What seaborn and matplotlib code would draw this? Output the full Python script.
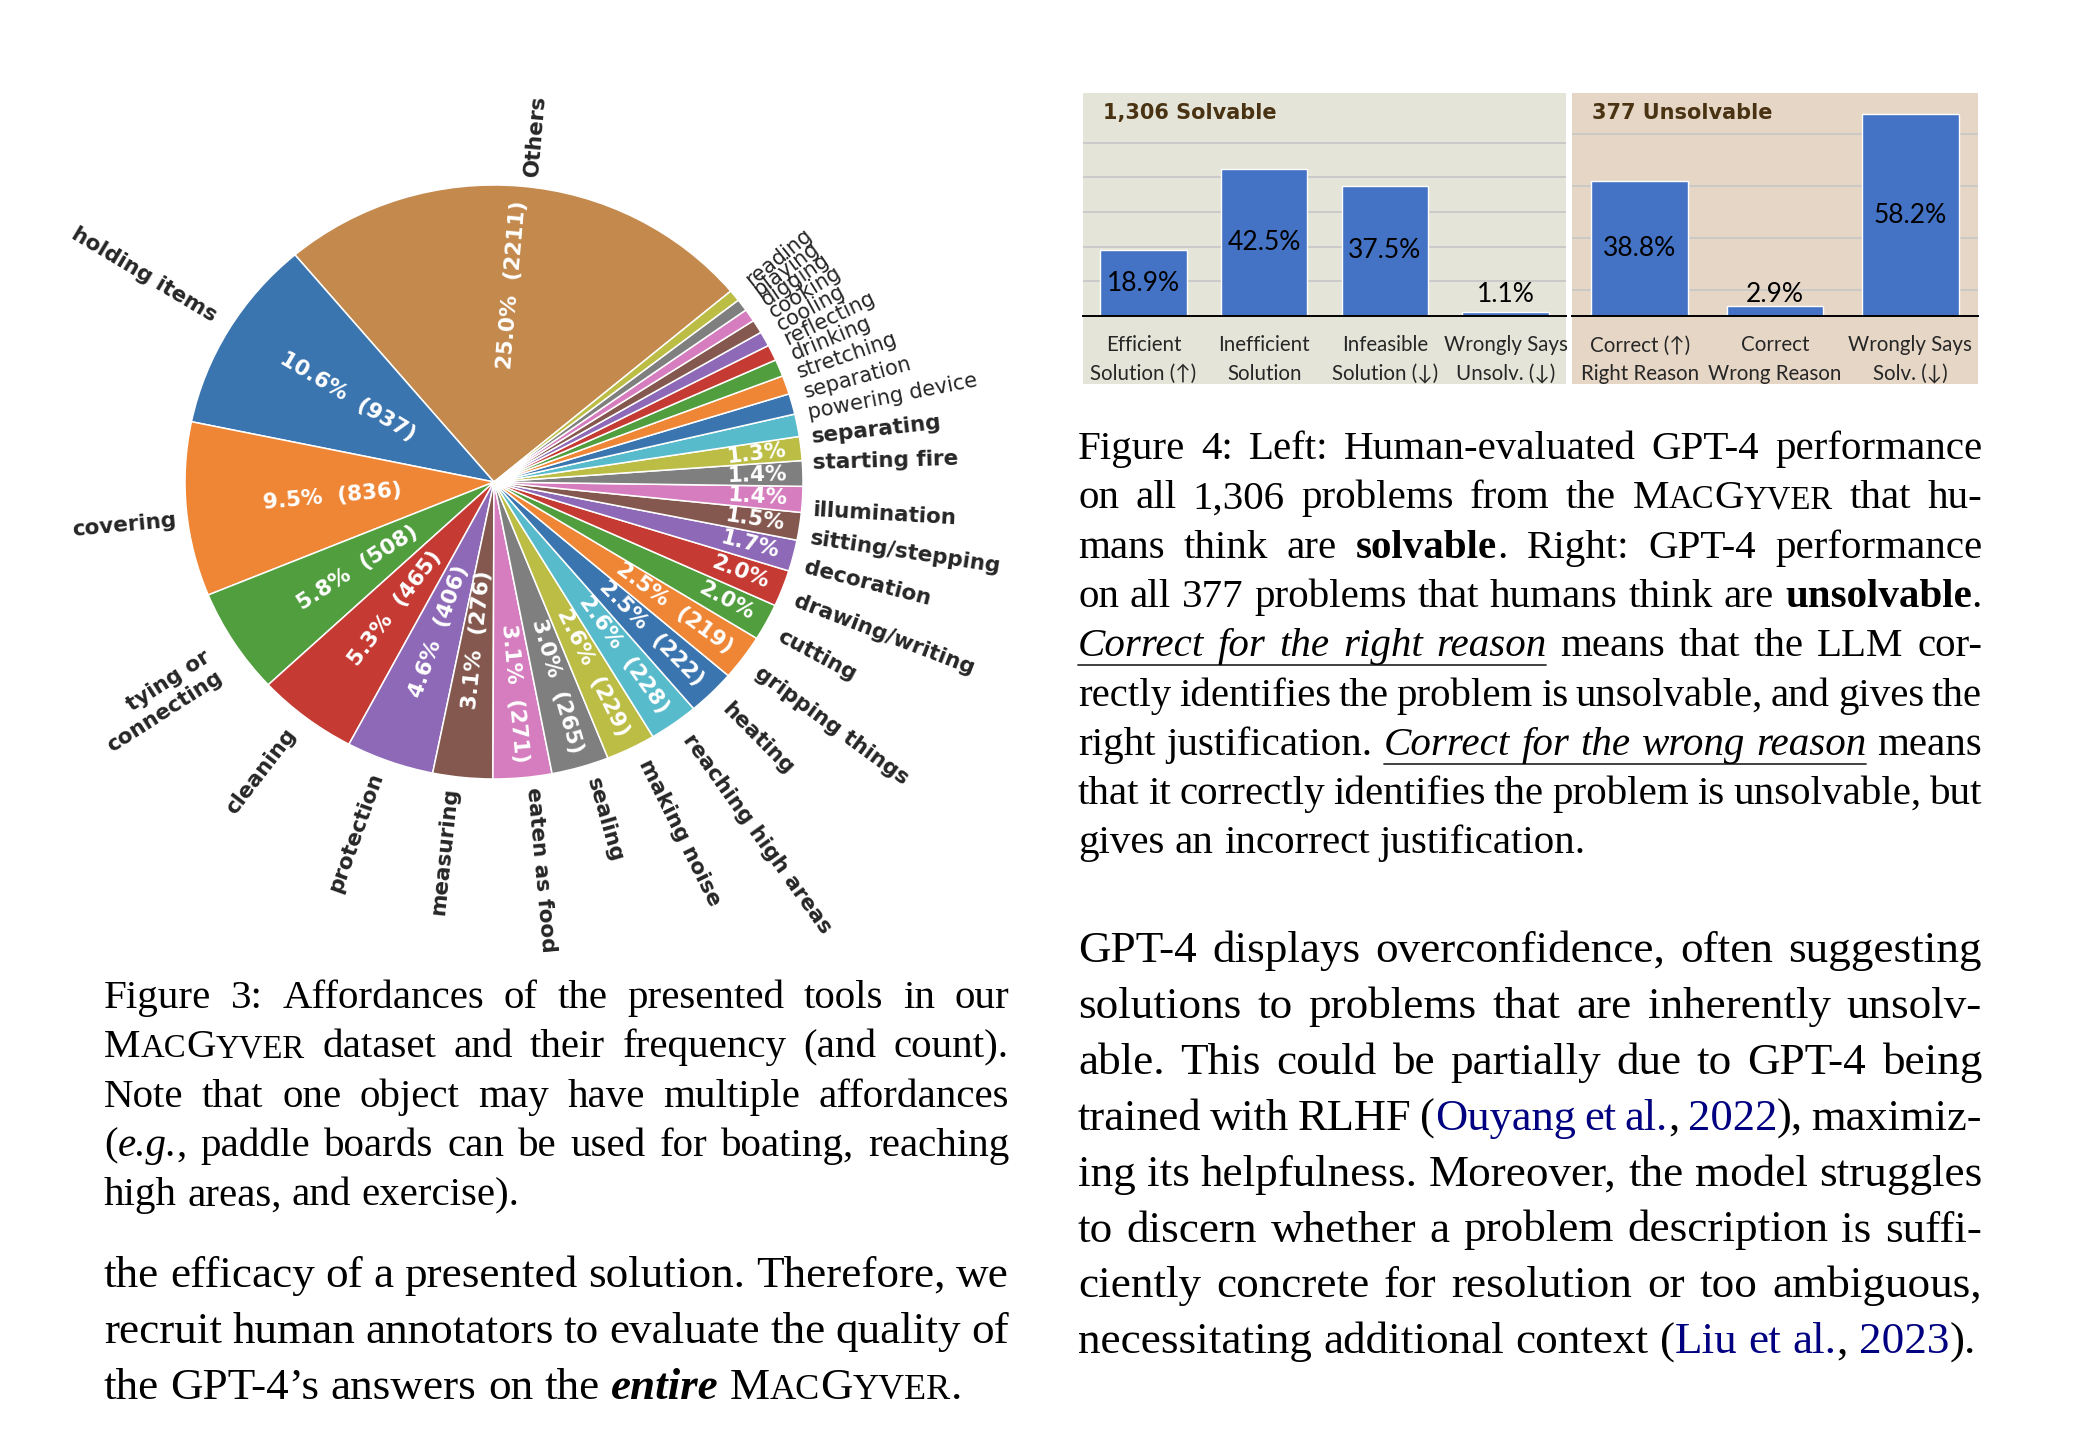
import matplotlib
matplotlib.use("Agg")
import matplotlib.pyplot as plt
import seaborn as sns
import numpy as np
import pandas as pd
from matplotlib.font_manager import FontProperties
from matplotlib.patches import Rectangle
from matplotlib.lines import Line2D

# ---------------- data ----------------
aff_labels = ["Others", "holding items", "covering", "tying or\nconnecting", "cleaning",
              "protection", "measuring", "eaten as food", "sealing", "making noise",
              "reaching high areas", "heating", "gripping things", "cutting",
              "drawing/writing", "decoration", "sitting/stepping", "illumination",
              "starting fire", "separating", "powering device", "separation",
              "stretching", "drinking", "reflecting", "cooling", "cooking",
              "digging", "playing", "reading"]
aff_counts = [2211, 937, 836, 508, 465, 406, 276, 271, 265, 229, 228, 222, 219,
              177, 175, 150, 133, 124, 122, 115, 108, 99, 90, 82, 76, 71, 65, 61, 58, 55]

solv_cats = ["Efficient\nSolution (\u2191)", "Inefficient\nSolution",
             "Infeasible\nSolution (\u2193)", "Wrongly Says\nUnsolv. (\u2193)"]
solv_vals = [18.9, 42.5, 37.5, 1.1]
unsolv_cats = ["Correct (\u2191)\nRight Reason", "Correct\nWrong Reason",
               "Wrongly Says\nSolv. (\u2193)"]
unsolv_vals = [38.8, 2.9, 58.2]
solv_title = "1,306 Solvable"
unsolv_title = "377 Unsolvable"
solv_grid = [10, 20, 30, 40, 50]
unsolv_grid = [7.5, 22.5, 37.5, 52.5]

cap3 = [
    [("r", "Figure 3:  Affordances of the presented tools in our")],
    [("r", "M"), ("s", "AC"), ("r", "G"), ("s", "YVER"), ("r", " dataset and their frequency (and count).")],
    [("r", "Note that one object may have multiple affordances")],
    [("r", "("), ("i", "e.g."), ("r", ", paddle boards can be used for boating, reaching")],
    [("r", "high areas, and exercise).")],
]
body_left = [
    [("r", "the efficacy of a presented solution. Therefore, we")],
    [("r", "recruit human annotators to evaluate the quality of")],
    [("r", "the GPT-4\u2019s answers on the "), ("bi", "entire"), ("r", " M"), ("s", "AC"),
     ("r", "G"), ("s", "YVER"), ("r", ".")],
]
cap4 = [
    [("r", "Figure 4: Left: Human-evaluated GPT-4 performance")],
    [("r", "on all 1,306 problems from the M"), ("s", "AC"), ("r", "G"), ("s", "YVER"), ("r", " that hu-")],
    [("r", "mans think are "), ("b", "solvable"), ("r", ".  Right:  GPT-4 performance")],
    [("r", "on all 377 problems that humans think are "), ("b", "unsolvable"), ("r", ".")],
    [("iu", "Correct for the right reason"), ("r", " means that the LLM cor-")],
    [("r", "rectly identifies the problem is unsolvable, and gives the")],
    [("r", "right justification. "), ("iu", "Correct for the wrong reason"), ("r", " means")],
    [("r", "that it correctly identifies the problem is unsolvable, but")],
    [("r", "gives an incorrect justification.")],
]
body_right = [
    [("r", "GPT-4 displays overconfidence, often suggesting")],
    [("r", "solutions to problems that are inherently unsolv-")],
    [("r", "able.  This could be partially due to GPT-4 being")],
    [("r", "trained with RLHF ("), ("l", "Ouyang et al."), ("r", ", "), ("l", "2022"), ("r", "), maximiz-")],
    [("r", "ing its helpfulness. Moreover, the model struggles")],
    [("r", "to discern whether a problem description is suffi-")],
    [("r", "ciently concrete for resolution or too ambiguous,")],
    [("r", "necessitating additional context ("), ("l", "Liu et al."), ("r", ", "), ("l", "2023"), ("r", ").")],
]

# ---------------- styles ----------------
W, H, DPI = 2082, 1430, 100
TAB = ["#3b75af", "#ef8636", "#519e3e", "#c53a32", "#8d69b8",
       "#84584e", "#d57dbe", "#7f7f7f", "#bcbd45", "#58bbcc"]
OTHERS_COLOR = "#c3894d"
BAR = "#4472c4"
SERIF = "Liberation Serif"

sns.set_style("white")
plt.rcParams["font.family"] = ["DejaVu Sans"]

fig = plt.figure(figsize=(W / DPI, H / DPI), dpi=DPI)
fig.patch.set_facecolor("white")


def rect(x0, y0, x1, y1):
    return [x0 / W, 1 - y1 / H, (x1 - x0) / W, (y1 - y0) / H]


# ---------------- pie ----------------
CX, CY, RA, RB, HALF = 494, 482, 309, 297, 420
axp = fig.add_axes(rect(CX - HALF, CY - HALF, CX + HALF, CY + HALF))
colors = [OTHERS_COLOR] + [TAB[i % 10] for i in range(len(aff_counts) - 1)]
wedges, texts = axp.pie(aff_counts, labels=aff_labels, colors=colors, startangle=40,
                        counterclock=True, rotatelabels=True, labeldistance=1.03,
                        wedgeprops=dict(edgecolor="white", linewidth=1.1),
                        textprops=dict(fontsize=15.5))
axp.set_aspect("auto")
axp.set_xlim(-HALF / RA, HALF / RA)
axp.set_ylim(-HALF / RB, HALF / RB)
axp.axis("off")

total = sum(aff_counts)
for w, t, c in zip(wedges, texts, aff_counts):
    pct = 100.0 * c / total
    if pct >= 1.25:
        t.set_fontweight("bold")
        t.set_fontsize(15.5)
    else:
        t.set_fontweight("normal")
        t.set_fontsize(15)
    if pct < 1.25:
        continue
    s = f"{pct:.1f}%  ({c})" if pct >= 2.45 else f"{pct:.1f}%"
    th = np.deg2rad((w.theta1 + w.theta2) / 2)
    x, y = np.cos(th), np.sin(th)
    deg = np.rad2deg(th) % 360
    if x > 0:
        r, rot = 0.95, deg
    else:
        r, rot = 0.30, deg - 180
    axp.text(r * x, r * y, s, rotation=rot, rotation_mode="anchor", ha="right",
             va="center", color="white", fontweight="bold", fontsize=15.5)

# ---------------- bars ----------------
PX_PER_PCT = 3.47
TOP, BASE, BOT = 93, 316, 384
SANS = ["Lato", "DejaVu Sans"]


def bar_panel(x0, x1, cats, vals, title, bg, grid):
    fig.add_artist(Rectangle((x0 / W, 1 - BOT / H), (x1 - x0) / W, (BOT - TOP) / H,
                             transform=fig.transFigure, facecolor=bg, edgecolor="none",
                             zorder=-2))
    ax = fig.add_axes(rect(x0, TOP, x1, BASE))
    ax.set_facecolor("none")
    df = pd.DataFrame({"cat": cats, "val": vals})
    sns.barplot(data=df, x="cat", y="val", color=BAR, saturation=1, width=0.715, ax=ax)
    ax.set_ylim(0, (BASE - TOP) / PX_PER_PCT)
    ax.set_xlim(-0.5, len(cats) - 0.5)
    ax.set_yticks(grid)
    ax.yaxis.grid(True, color="#c8c8c8", linewidth=1.3)
    ax.set_axisbelow(True)
    ax.tick_params(axis="y", length=0, labelleft=False)
    ax.tick_params(axis="x", length=0, pad=14)
    for sp in ["top", "left", "right"]:
        ax.spines[sp].set_visible(False)
    ax.spines["bottom"].set_color("black")
    ax.spines["bottom"].set_linewidth(1.4)
    ax.set_xlabel("")
    ax.set_ylabel("")
    for lab in ax.get_xticklabels():
        lab.set_fontfamily(SANS)
        lab.set_fontsize(14.8)
        lab.set_linespacing(1.55)
    for i, v in enumerate(vals):
        yy = v / 2 if v > 10 else max(v, 3.5) + 2.6
        ax.text(i, yy, f"{v:.1f}%", ha="center", va="center", fontsize=19,
                fontfamily=SANS, color="black")
    fig.text((x0 + 20) / W, 1 - 113 / H, title, ha="left", va="center",
             fontsize=15, fontweight="bold", color="#4a3313", fontfamily="DejaVu Sans")
    return ax


bar_panel(1083, 1566, solv_cats, solv_vals, solv_title, "#e4e5d8", solv_grid)
bar_panel(1572, 1978, unsolv_cats, unsolv_vals, unsolv_title, "#e5d6c6", unsolv_grid)

# ---------------- text blocks ----------------
renderer = fig.canvas.get_renderer()


def fp_for(style, size):
    weight = "bold" if "b" in style else "normal"
    slant = "italic" if "i" in style else "normal"
    sz = size * 0.8 if "s" in style else size
    return FontProperties(family=SERIF, weight=weight, style=slant, size=sz)


def meas(s, fp):
    w, h, d = renderer.get_text_width_height_descent(s, fp, ismath=False)
    return w


def words_of(segs):
    words = [[]]
    for style, txt in segs:
        parts = txt.split(" ")
        for k, p in enumerate(parts):
            if k > 0 and words[-1]:
                words.append([])
            if p:
                words[-1].append((style, p))
    return [w for w in words if w]


def word_widths(words, size):
    return [sum(meas(t, fp_for(st, size)) for st, t in w) for w in words]


def draw_par(lines, x0, x1, y0, pitch, size):
    fpr = fp_for("r", size)
    sp = meas("a a", fpr) - meas("aa", fpr)
    for li, segs in enumerate(lines):
        words = words_of(segs)
        lsize = size
        widths = word_widths(words, lsize)
        last = li == len(lines) - 1
        n = len(words) - 1
        if last or n < 1:
            gap = sp
        else:
            gap = (x1 - x0 - sum(widths)) / n
            if gap < 0.75 * sp:
                lsize = size * (x1 - x0 - n * 0.75 * sp) / sum(widths)
                widths = word_widths(words, lsize)
                gap = (x1 - x0 - sum(widths)) / n
        x = x0
        y = y0 + li * pitch
        ul = None
        for w, wd in zip(words, widths):
            xx = x
            for st, t in w:
                fp = fp_for(st, lsize)
                fig.text(xx / W, 1 - y / H, t, fontproperties=fp,
                         color="#000080" if "l" in st else "black",
                         ha="left", va="baseline")
                xx += meas(t, fp)
            if any("u" in st for st, _ in w):
                ul = (ul[0] if ul else x, x + wd)
            x += wd + gap
        if ul:
            fig.add_artist(Line2D([ul[0] / W, ul[1] / W], [1 - (y + 9) / H] * 2,
                                  transform=fig.transFigure, color="#333333", lw=1.3))


draw_par(cap3, 104, 1009, 1008, 49.3, 29.5)
draw_par(body_left, 104, 1009, 1287, 55.8, 32.5)
draw_par(cap4, 1078, 1982, 459, 49.3, 29.5)
draw_par(body_right, 1078, 1982, 962, 55.9, 32.5)

fig.savefig("out.png", dpi=DPI, facecolor="white")
